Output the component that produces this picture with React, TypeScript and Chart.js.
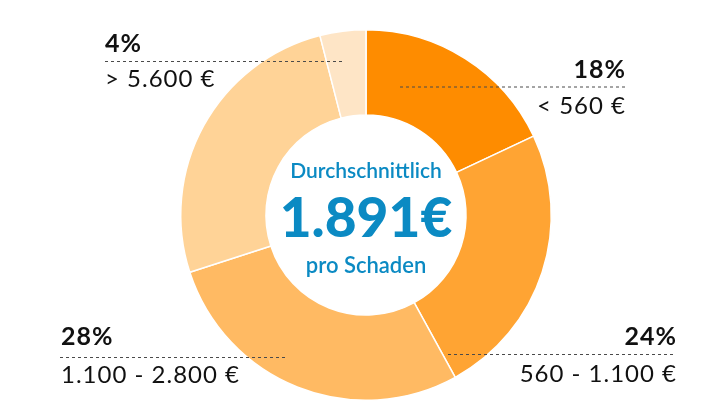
import React, { useEffect, useRef } from 'react';
import { Chart, ArcElement, DoughnutController } from 'chart.js';

Chart.register(ArcElement, DoughnutController);

// Schadenhöhe je Schadenfall, Anteil in Prozent
const categories = ['< 560 €', '560 - 1.100 €', '1.100 - 2.800 €', '2.800 - 5.600 €', '> 5.600 €'];
const shares = [18, 24, 28, 26, 4];
const sliceColors = ['#FE8C00', '#FFA433', '#FFBA63', '#FFD397', '#FEE5C6'];

const centerLines = ['Durchschnittlich', '1.891€', 'pro Schaden'];

const FONT = 'Lato, "Open Sans", sans-serif';
const BLUE = '#0B8AC3';

// where each callout sits (slice index -> text block)
const callouts = [
  { index: 0, align: 'right', x: 625, pctY: 78, lineY: 87, lineFrom: 400, lineTo: 625, rangeY: 114 },
  { index: 1, align: 'right', x: 676, pctY: 345, lineY: 354.5, lineFrom: 448, lineTo: 676, rangeY: 382 },
  { index: 2, align: 'left', x: 61, pctY: 345, lineY: 357.5, lineFrom: 60, lineTo: 286, rangeY: 383 },
  { index: 4, align: 'left', x: 105, pctY: 52, lineY: 61.5, lineFrom: 105, lineTo: 343, rangeY: 87 },
];

const labelPlugin = {
  id: 'calloutLabels',
  afterDraw(chart: Chart) {
    const ctx = chart.ctx as any;
    ctx.save();

    // dotted leader lines
    ctx.strokeStyle = '#4a4a4a';
    ctx.lineWidth = 1;
    ctx.setLineDash([3, 3]);
    callouts.forEach((c) => {
      ctx.beginPath();
      ctx.moveTo(c.lineFrom, c.lineY);
      ctx.lineTo(c.lineTo, c.lineY);
      ctx.stroke();
    });
    ctx.setLineDash([]);

    ctx.fillStyle = '#111';
    ctx.textBaseline = 'alphabetic';
    callouts.forEach((c) => {
      ctx.textAlign = c.align;
      // trailing spacing would shift right-aligned text, so nudge it back
      const shift = c.align === 'right' ? 1 : 0;
      ctx.letterSpacing = '1px';
      ctx.font = `bold 25px ${FONT}`;
      ctx.fillText(shares[c.index] + '%', c.x + shift, c.pctY);
      ctx.font = `24px ${FONT}`;
      ctx.fillText(categories[c.index], c.x + shift, c.rangeY);
      ctx.letterSpacing = '0px';
    });

    // text in the hole
    const meta = chart.getDatasetMeta(0);
    const arc = meta.data[0] as any;
    const cx = arc.x;
    ctx.fillStyle = BLUE;
    ctx.textAlign = 'center';
    ctx.font = `600 21px ${FONT}`;
    ctx.fillText(centerLines[0], cx, 178);
    ctx.font = `900 55px ${FONT}`;
    ctx.fillText(centerLines[1], cx, 237);
    ctx.font = `600 22px ${FONT}`;
    ctx.fillText(centerLines[2], cx, 273);

    ctx.restore();
  },
};

const DonutChart = () => {
  const canvasRef = useRef<HTMLCanvasElement>(null);

  useEffect(() => {
    if (!canvasRef.current) return;
    const chart = new Chart(canvasRef.current, {
      type: 'doughnut',
      data: {
        labels: categories,
        datasets: [
          {
            data: shares,
            backgroundColor: sliceColors,
            borderColor: '#ffffff',
            borderWidth: 1.5,
          },
        ],
      },
      options: {
        responsive: true,
        maintainAspectRatio: false,
        animation: false,
        cutout: '54%',
        layout: {
          padding: { top: 29, bottom: 15, left: 20, right: 0 },
        },
        plugins: {
          legend: { display: false },
          tooltip: { enabled: false },
        },
      },
      plugins: [labelPlugin],
    });

    return () => {
      chart.destroy();
    };
  }, []);

  return (
    <div style={{ position: 'fixed', left: 0, top: 0, width: '712px', height: '416px', background: '#fff' }}>
      <canvas ref={canvasRef} />
    </div>
  );
};

export default function App() {
  return <DonutChart />;
}
